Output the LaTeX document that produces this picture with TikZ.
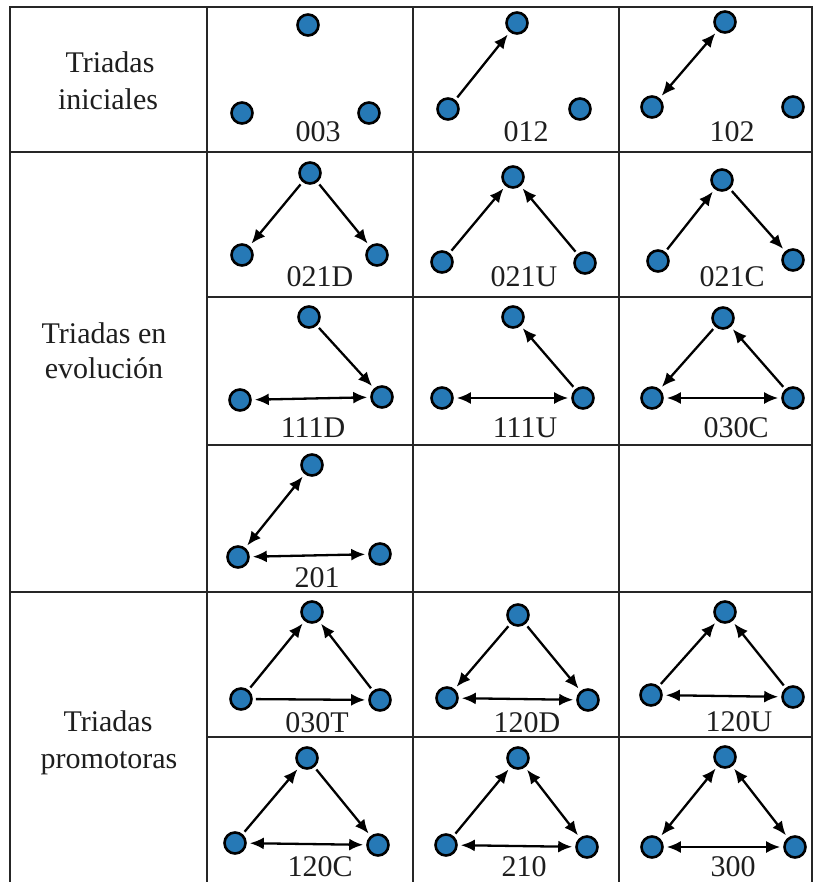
\documentclass[tikz,border=0pt]{standalone}
\usepackage{fontspec}
\setmainfont{Liberation Serif}
\usetikzlibrary{arrows.meta}
\definecolor{nodeblue}{RGB}{38,121,182}
\definecolor{txt}{RGB}{30,30,30}
\newcommand{\tri}[4]{%
  \node[v] (#1t) at (#2) {};
  \node[v] (#1l) at (#3) {};
  \node[v] (#1r) at (#4) {};}
\begin{document}
\begin{tikzpicture}[x=1pt,y=-1pt,
  v/.style={circle,fill=nodeblue,draw=black,line width=2.6pt,minimum size=21pt,inner sep=0pt},
  e/.style={line width=2.3pt,-{Latex[length=14pt,width=12pt]},shorten >=3pt,shorten <=3pt},
  ee/.style={line width=2.3pt,{Latex[length=14pt,width=12pt]}-{Latex[length=14pt,width=12pt]},shorten >=3pt,shorten <=3pt},
  lab/.style={anchor=base,inner sep=0pt,text=txt,font=\fontsize{30}{36}\selectfont},
  grid/.style={line width=1.8pt,draw=black!85},
  thick grid/.style={line width=2.6pt,draw=black!85}]
\useasboundingbox (0,0) rectangle (815,882);
\fill[white] (0,0) rectangle (815,882);
% table lines
\draw[thick grid] (10,882) -- (10,7) -- (812,7) -- (812,882);
\draw[grid] (207,7) -- (207,882);
\draw[grid] (413,7) -- (413,882);
\draw[grid] (619,7) -- (619,882);
\draw[thick grid] (10,152) -- (812,152);
\draw[thick grid] (10,592) -- (812,592);
\draw[grid] (207,297) -- (812,297);
\draw[grid] (207,445) -- (812,445);
\draw[grid] (207,737) -- (812,737);
% row headers
\node[lab] (h1a) at (110,73) {Triadas};
\node[lab] (h1b) at (108,110) {iniciales};
\node[lab] (h2a) at (104,343) {Triadas en};
\node[lab] (h2b) at (104,378) {evolución};
\node[lab] (h3a) at (108,731) {Triadas};
\node[lab] (h3b) at (109,768) {promotoras};
% triads
\tri{a}{308,25}{242,113}{369,113}
\tri{b}{517,23}{448,109}{580,109}
\tri{c}{725,22}{652,107}{793,107}
\tri{d}{310,173}{242,255}{377,255}
\tri{f}{513,177}{442,262}{585,263}
\tri{g}{722,180}{658,261}{793,260}
\tri{h}{309,317}{240,400}{382,397}
\tri{i}{513,317}{442,398}{583,398}
\tri{j}{723,318}{652,398}{793,398}
\tri{k}{312,465}{238,557}{380,554}
\tri{m}{312,612}{241,699}{380,700}
\tri{n}{518,615}{447,698}{588,700}
\tri{o}{725,612}{651,695}{793,697}
\tri{p}{307,758}{235,843}{378,845}
\tri{q}{518,758}{446,845}{587,847}
\tri{r}{725,757}{652,847}{795,847}
% edges
\draw[e] (bl) -- (bt);
\draw[ee] (cl) -- (ct);
\draw[e] (dt) -- (dl); \draw[e] (dt) -- (dr);
\draw[e] (fl) -- (ft); \draw[e] (fr) -- (ft);
\draw[e] (gl) -- (gt); \draw[e] (gt) -- (gr);
\draw[e] (ht) -- (hr); \draw[ee] (hl) -- (hr);
\draw[e] (ir) -- (it); \draw[ee] (il) -- (ir);
\draw[e] (jt) -- (jl); \draw[e] (jr) -- (jt); \draw[ee] (jl) -- (jr);
\draw[ee] (kl) -- (kt); \draw[ee] (kl) -- (kr);
\draw[e] (ml) -- (mt); \draw[e] (mr) -- (mt); \draw[e] (ml) -- (mr);
\draw[e] (nt) -- (nl); \draw[e] (nt) -- (nr); \draw[ee] (nl) -- (nr);
\draw[e] (ol) -- (ot); \draw[e] (or) -- (ot); \draw[ee] (ol) -- (or);
\draw[e] (pl) -- (pt); \draw[e] (pt) -- (pr); \draw[ee] (pl) -- (pr);
\draw[e] (ql) -- (qt); \draw[ee] (qt) -- (qr); \draw[ee] (ql) -- (qr);
\draw[ee] (rl) -- (rt); \draw[ee] (rt) -- (rr); \draw[ee] (rl) -- (rr);
% labels
\node[lab] (la) at (318,142) {003};
\node[lab] (lb) at (526,142) {012};
\node[lab] (lc) at (732,142) {102};
\node[lab] (ld) at (320,287) {021D};
\node[lab] (lf) at (524,287) {021U};
\node[lab] (lg) at (732,287) {021C};
\node[lab] (lh) at (313,437) {111D};
\node[lab] (li) at (525,437) {111U};
\node[lab] (lj) at (736,437) {030C};
\node[lab] (lk) at (317,587) {201};
\node[lab] (lm) at (317,732) {030T};
\node[lab] (ln) at (527,732) {120D};
\node[lab] (lo) at (739,731) {120U};
\node[lab] (lp) at (320,876) {120C};
\node[lab] (lq) at (524,876) {210};
\node[lab] (lr) at (733,876) {300};
\end{tikzpicture}
\end{document}
